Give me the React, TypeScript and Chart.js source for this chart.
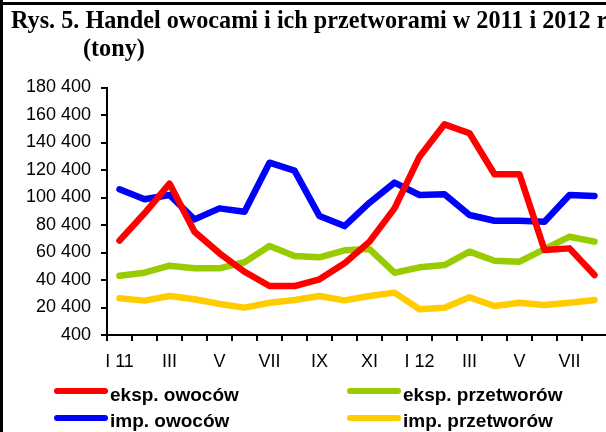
import React, { useEffect, useRef } from "react";
import { Chart, registerables } from "chart.js";

Chart.register(...registerables);

const titleLine1 = "Rys. 5. Handel owocami i ich przetworami w 2011 i 2012 r.";
const titleLine2 = "(tony)";

const months = [
  "I 11", "II", "III", "IV", "V", "VI", "VII", "VIII", "IX", "X", "XI", "XII",
  "I 12", "II", "III", "IV", "V", "VI", "VII", "VIII",
];

const seriesNames = ["eksp. owoców", "eksp. przetworów", "imp. owoców", "imp. przetworów"];

const ekspOwocow = [
  69000, 88900, 110500, 75500, 59800, 46400, 36000, 36000, 40900, 52500,
  68300, 92500, 130100, 153600, 147100, 117300, 117300, 62200, 63400, 44000,
];
const ekspPrzetworow = [
  43500, 45700, 50800, 48900, 48900, 53300, 65100, 57900, 56900, 62000,
  62900, 45700, 49600, 51300, 61000, 54400, 53700, 62900, 71900, 68300,
];
const impOwocow = [
  106400, 99100, 102200, 84500, 92500, 90100, 125700, 119900, 86900, 79600,
  96600, 111200, 102200, 102700, 87700, 83500, 83500, 82800, 102200, 101500,
];
const impPrzetworow = [
  27100, 25400, 28800, 26400, 23000, 20300, 23900, 25900, 28800, 25600,
  28800, 31200, 19100, 20300, 27800, 21500, 23900, 22200, 23900, 25900,
];

const yTicks = [400, 20400, 40400, 60400, 80400, 100400, 120400, 140400, 160400, 180400];

const colors = ["#FF0000", "#99CC00", "#0000FF", "#FFCC00"];
const seriesData = [ekspOwocow, ekspPrzetworow, impOwocow, impPrzetworow];

const sansFamily = "'Liberation Sans', Arial, Helvetica, sans-serif";

function fmt(v: number): string {
  const th = Math.floor(v / 1000);
  const rest = v % 1000;
  if (th === 0) return String(rest);
  return th + " " + String(rest).padStart(3, "0");
}

export default function App() {
  const ref = useRef<HTMLCanvasElement>(null);

  useEffect(() => {
    const chart = new Chart(ref.current as HTMLCanvasElement, {
      type: "line",
      data: {
        labels: months,
        datasets: seriesData.map((d, i) => ({
          label: seriesNames[i],
          data: d,
          borderColor: colors[i],
          backgroundColor: colors[i],
          borderWidth: 6.5,
          pointRadius: 0,
          pointHoverRadius: 0,
          tension: 0,
          fill: false,
          borderJoinStyle: "round" as const,
          borderCapStyle: "round" as const,
        })),
      },
      options: {
        responsive: false,
        animation: false,
        devicePixelRatio: 1,
        layout: { padding: { top: 87.5, right: 13, left: 0, bottom: 0 } },
        plugins: {
          legend: { display: false },
          tooltip: { enabled: false },
          title: { display: false },
        },
        scales: {
          x: {
            offset: true,
            grid: {
              offset: true,
              drawOnChartArea: false,
              drawTicks: true,
              tickLength: 6,
              color: "#000",
              lineWidth: 2,
            },
            border: { display: true, color: "#000", width: 2 },
            ticks: {
              autoSkip: false,
              maxRotation: 0,
              minRotation: 0,
              color: "#000",
              padding: 10,
              font: { family: sansFamily, size: 18 },
              callback: (_v: any, i: number) => (i % 2 === 0 ? months[i] : ""),
            },
            afterFit: (s: any) => {
              s.height = 97;
            },
          },
          y: {
            min: 400,
            max: 180400,
            afterBuildTicks: (s: any) => {
              s.ticks = yTicks.map((v) => ({ value: v }));
            },
            grid: {
              drawOnChartArea: false,
              drawTicks: true,
              tickLength: 6,
              color: "#000",
              lineWidth: 2,
            },
            border: { display: true, color: "#000", width: 2 },
            ticks: {
              color: "#000",
              padding: 10,
              font: { family: sansFamily, size: 18 },
              callback: (v: any) => fmt(Number(v)),
            },
            afterFit: (s: any) => {
              s.width = 107;
            },
          },
        },
      },
    });
    return () => chart.destroy();
  }, []);

  const legendPos = [
    { left: 54, lineY: 391, textTop: 385 },
    { left: 347, lineY: 391, textTop: 385 },
    { left: 54, lineY: 418, textTop: 411 },
    { left: 347, lineY: 418, textTop: 411 },
  ];

  return (
    <div
      style={{
        position: "fixed",
        left: 0,
        top: 0,
        width: 606,
        height: 432,
        overflow: "hidden",
        background: "#fff",
      }}
    >
      <canvas
        ref={ref}
        width={620}
        height={432}
        style={{ position: "absolute", left: 0, top: 0, width: 620, height: 432, display: "block" }}
      />
      <div
        style={{
          position: "absolute",
          left: 11,
          top: 6,
          fontFamily: "'Liberation Serif', 'Times New Roman', serif",
          fontWeight: "bold",
          fontSize: 24.2,
          lineHeight: "28px",
          whiteSpace: "nowrap",
          color: "#000",
        }}
      >
        {titleLine1}
      </div>
      <div
        style={{
          position: "absolute",
          left: 83,
          top: 34,
          fontFamily: "'Liberation Serif', 'Times New Roman', serif",
          fontWeight: "bold",
          fontSize: 24.2,
          lineHeight: "28px",
          whiteSpace: "nowrap",
          color: "#000",
        }}
      >
        {titleLine2}
      </div>
      {seriesNames.map((name, i) => (
        <React.Fragment key={name}>
          <div
            style={{
              position: "absolute",
              left: legendPos[i].left,
              top: legendPos[i].lineY - 3,
              width: 54,
              height: 6,
              borderRadius: 3,
              background: colors[i],
            }}
          />
          <div
            style={{
              position: "absolute",
              left: legendPos[i].left + 56,
              top: legendPos[i].textTop,
              fontFamily: sansFamily,
              fontWeight: "bold",
              fontSize: 19,
              lineHeight: "19px",
              whiteSpace: "nowrap",
              color: "#000",
            }}
          >
            {name}
          </div>
        </React.Fragment>
      ))}
      <div style={{ position: "absolute", left: 0, top: 0, width: 3, height: 432, background: "#000" }} />
      <div style={{ position: "absolute", left: 0, top: 2, width: 606, height: 3, background: "#000" }} />
    </div>
  );
}
